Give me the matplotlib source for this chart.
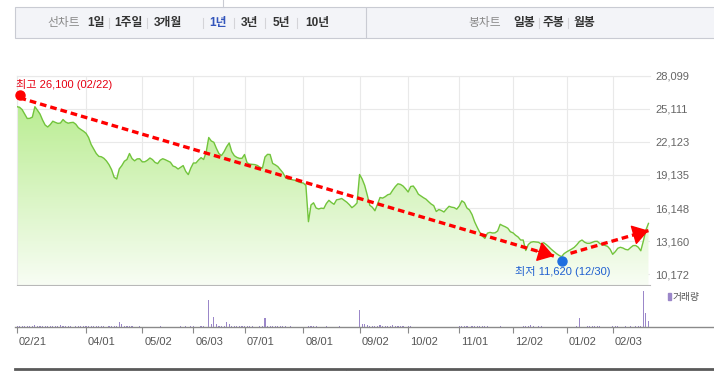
import matplotlib.pyplot as plt
import matplotlib.transforms as mtransforms
import numpy as np
from matplotlib.colors import LinearSegmentedColormap
from matplotlib.lines import Line2D
from matplotlib.patches import Rectangle

plt.rcParams['font.family'] = ['Liberation Sans', 'Noto Sans CJK KR']

W, H = 714, 371

# daily closing prices, one value per trading day
close = [
    25300, 25250, 25040, 24640, 24235, 24250, 24360, 25300, 24980, 24640,
    24100, 23650, 23470, 23685, 23990, 23885, 23795, 23830, 24145, 23920,
    23810, 23865, 23890, 23720, 23405, 23240, 23090, 22900, 22520, 21890,
    21490, 21075, 20820, 20780, 20640, 20400, 20065, 19615, 18935, 18775,
    19685, 19985, 20380, 20535, 21075, 20615, 20415, 20590, 20600, 20320,
    20330, 20470, 20670, 20525, 20270, 20165, 20470, 20605, 20515, 20400,
    20290, 19950, 19860, 19675, 19830, 19985, 19460, 19170, 19770, 20220,
    20220, 20490, 20705, 20535, 21210, 22520, 22205, 22085, 21535, 21060,
    20895, 21240, 21690, 22025, 21245, 20880, 20725, 20640, 20640, 20985,
    20235, 20120, 20100, 20075, 20000, 19840, 19765, 20760, 21000, 20985,
    20180, 20055, 19900, 19615, 19340, 18925, 18765, 18755, 18685, 18655,
    18520, 18450, 18405, 18195, 14920, 16430, 16625, 16155, 16065, 16140,
    16110, 16560, 16850, 16650, 16490, 16895, 16940, 17015, 16850, 16680,
    16455, 16185, 16365, 16610, 19180, 18775, 18195, 17330, 16400, 16220,
    15905, 16490, 17105, 17050, 17175, 17350, 17420, 17780, 18095, 18340,
    18285, 18140, 17890, 17600, 18095, 18140, 17825, 17400, 17240, 17085,
    16950, 16725, 16515, 16370, 15840, 16020, 15930, 15795, 16065, 16310,
    16230, 16190, 16050, 16335, 16805, 16645, 16155, 15975, 15560, 14910,
    14415, 13965, 13630, 13410, 13880, 13955, 13900, 13915, 14080, 14685,
    14560, 14460, 14325, 14010, 13915, 13700, 13540, 13265, 13265, 12320,
    12860, 13065, 13115, 13085, 13060, 12905, 13025, 12860, 12655, 12430,
    12230, 12040, 11885, 11760, 12040, 12195, 12320, 12455, 12610, 12845,
    13130, 13265, 13070, 12970, 12970, 13060, 13140, 13150, 12935, 12845,
    12780, 12690, 12435, 11975, 12210, 12520, 12610, 12545, 12420, 12375,
    12580, 12760, 12770, 12615, 12295, 13175, 14170, 14765,
]

# traded volume per day (relative units)
volume = [
    18, 18, 18, 18, 18, 18, 18, 36, 18, 18,
    18, 18, 18, 18, 18, 18, 18, 36, 18, 18,
    18, 18, 0, 18, 18, 18, 18, 18, 18, 18,
    18, 18, 18, 18, 18, 0, 18, 18, 18, 18,
    89, 52, 18, 18, 18, 18, 0, 0, 18, 0,
    0, 0, 0, 0, 0, 0, 18, 0, 0, 0,
    0, 0, 0, 0, 18, 0, 18, 0, 18, 18,
    0, 0, 18, 18, 0, 416, 52, 161, 52, 18,
    18, 18, 89, 52, 18, 18, 18, 18, 18, 18,
    18, 18, 18, 0, 0, 18, 18, 146, 18, 18,
    18, 18, 18, 18, 18, 18, 0, 18, 0, 0,
    0, 0, 0, 0, 18, 18, 18, 18, 0, 0,
    0, 18, 0, 0, 0, 0, 18, 0, 0, 0,
    0, 0, 0, 0, 270, 52, 52, 36, 18, 18,
    18, 18, 36, 18, 18, 18, 18, 36, 18, 18,
    18, 18, 0, 18, 18, 0, 0, 0, 0, 0,
    0, 0, 0, 0, 0, 0, 0, 0, 0, 0,
    0, 0, 0, 18, 18, 18, 18, 0, 18, 18,
    18, 18, 18, 18, 18, 0, 0, 0, 0, 18,
    0, 0, 0, 0, 0, 0, 0, 0, 18, 18,
    18, 30, 18, 0, 18, 18, 0, 0, 0, 0,
    0, 0, 0, 0, 0, 0, 0, 0, 0, 18,
    146, 0, 0, 18, 18, 18, 18, 18, 18, 0,
    0, 0, 0, 18, 18, 18, 0, 0, 18, 0,
    18, 0, 18, 18, 18, 567, 224, 99,
]

tick_days = [0, 27, 49, 69, 89, 112, 134, 153, 173, 194, 215, 233]
tick_labels = ["02/21", "04/01", "05/02", "06/03", "07/01", "08/01",
               "09/02", "10/02", "11/01", "12/02", "01/02", "02/03"]
price_ticks = [10172, 13160, 16148, 19135, 22123, 25111, 28099]

high_day, high_price, high_date = 1, 26100, "02/22"
low_day, low_price, low_date = 213, 11620, "12/30"

line_tabs = ["1일", "1주일", "3개월", "1년", "3년", "5년", "10년"]
candle_tabs = ["일봉", "주봉", "월봉"]

days = np.arange(len(close))
x_max = 247.6
y_min, y_max = 9205, 28099


def box(l, t, r, b):
    return [l / W, 1 - b / H, (r - l) / W, (b - t) / H]


def vline(x, y0, y1, **kw):
    fig.lines.append(Line2D([x / W] * 2, [1 - y0 / H, 1 - y1 / H],
                            transform=fig.transFigure, **kw))


fig = plt.figure(figsize=(W / 100, H / 100), dpi=100)

# ---- tab bar ----
fig.patches.append(Rectangle((15 / W, 1 - 37.7 / H), 1, 30.4 / H, transform=fig.transFigure,
                             facecolor="#f3f4f8", edgecolor="#c9cbd3", lw=0.8))
vline(366, 7.7, 37.3, color="#c9cbd3", lw=0.8)
vline(223, 0, 7.3, color="#c9cbd3", lw=0.8)
ty = 1 - 23 / H
tab_font = 8.5
fig.text(64 / W, ty, "선차트", ha="center", va="center", fontsize=tab_font, color="#8a8a8a")
line_x = [96, 128, 168, 218, 249, 281, 317]
sep_x = [109, 147, 203, 234, 265, 297]
for lab, xc in zip(line_tabs, line_x):
    col = "#3355bb" if lab == "1년" else "#333333"
    fig.text(xc / W, ty, lab, ha="center", va="center", fontsize=tab_font,
             fontweight="bold", color=col)
for xs in sep_x + [539, 568]:
    vline(xs, 18, 28, color="#d4d4d8", lw=0.8)
fig.text(485 / W, ty, "봉차트", ha="center", va="center", fontsize=tab_font, color="#8a8a8a")
for lab, xc in zip(candle_tabs, [524, 553, 584]):
    fig.text(xc / W, ty, lab, ha="center", va="center", fontsize=tab_font,
             fontweight="bold", color="#333333")

# ---- price panel ----
ax = fig.add_axes(box(17, 75.7, 650, 285))
ax.set_xlim(0, x_max)
ax.set_ylim(y_min, y_max)

grad = np.linspace(0, 1, 256).reshape(-1, 1)
cmap = LinearSegmentedColormap.from_list("g", ["#f8fdf4", "#b0ea82"])
im = ax.imshow(grad, extent=[0, x_max, y_min, y_max], origin="lower",
               aspect="auto", cmap=cmap, zorder=1)
poly = ax.fill_between(days, close, y_min, color="none")
im.set_clip_path(poly.get_paths()[0], transform=ax.transData)
ax.plot(days, close, color="#72c43c", lw=1.0, zorder=3)

ax.set_xticks(tick_days)
ax.set_yticks(price_ticks)
ax.grid(True, color="#e9e9e9", lw=0.8, zorder=0)
ax.set_axisbelow(True)
ax.yaxis.tick_right()
ax.set_yticklabels([f"{v:,}" for v in price_ticks])
ax.tick_params(axis="y", length=0, pad=4, labelsize=8, labelcolor="#666666")
ax.tick_params(axis="x", length=0, labelbottom=False)
ax.spines["right"].set_visible(False)
for s in ["left", "top"]:
    ax.spines[s].set_color("#e9e9e9")
    ax.spines[s].set_linewidth(0.8)
ax.spines["bottom"].set_color("#b8b8b8")
ax.spines["bottom"].set_linewidth(0.8)

# trend arrows: dashed shaft plus a solid filled head
start1 = (high_day, high_price)
end1 = (low_day - 3, low_price + 200)
start2 = (low_day + 3.5, low_price + 450)
end2 = (len(close) - 1, close[-1] - 650)
for p0, p1 in [(start1, end1), (start2, end2)]:
    ax.plot([p0[0], p1[0]], [p0[1], p1[1]], color="#ff0000", lw=2.4,
            dashes=(2.0, 1.2), zorder=4)
    back = (p1[0] - 0.04 * (p1[0] - p0[0]), p1[1] - 0.04 * (p1[1] - p0[1]))
    ax.annotate("", xy=p1, xytext=back, zorder=4,
                arrowprops=dict(arrowstyle="-|>,head_length=0.5,head_width=0.32",
                                color="#ff0000", lw=1.0, shrinkA=0, shrinkB=0,
                                mutation_scale=20))

ax.plot(high_day, high_price, "o", color="#ff0000", ms=6.5, zorder=5, clip_on=False,
        transform=ax.transData + mtransforms.Affine2D().translate(0, 3))
ax.plot(low_day, low_price, "o", color="#1f6fe0", ms=6.5, zorder=5, clip_on=False,
        transform=ax.transData + mtransforms.Affine2D().translate(0, -3))
ax.annotate(f"최고 {high_price:,} ({high_date})", xy=(high_day, high_price),
            xytext=(-3.5, 13.5), textcoords="offset pixels", ha="left", va="center",
            fontsize=8, color="#e60012")
ax.annotate(f"최저 {low_price:,} ({low_date})", xy=(low_day, low_price),
            xytext=(1, -13.5), textcoords="offset pixels", ha="center", va="center",
            fontsize=8, color="#1f5fd0")

# ---- volume panel ----
axv = fig.add_axes(box(17, 286, 650, 327.3))
axv.bar(days, volume, width=0.45, color="#9b87c9")
axv.set_xlim(0, x_max)
axv.set_ylim(0, 640)
for s in axv.spines.values():
    s.set_visible(False)
axv.set_yticks([])
axv.set_xticks(tick_days)
axv.set_xticklabels(tick_labels)
axv.tick_params(axis="x", direction="out", length=4, width=0.8, color="#8a8a8a",
                pad=3, labelsize=8, labelcolor="#555555")
shift = mtransforms.ScaledTranslation(2 / 100, 0, fig.dpi_scale_trans)
for lab in axv.get_xticklabels():
    lab.set_horizontalalignment("left")
    lab.set_transform(lab.get_transform() + shift)

fig.lines.append(Line2D([15 / W, 1], [1 - 327.3 / H] * 2, transform=fig.transFigure,
                        color="#8a8a8a", lw=1.0))
fig.patches.append(Rectangle((668 / W, 1 - 300 / H), 2.7 / W, 7 / H,
                             transform=fig.transFigure, color="#9b87c9"))
fig.text(673 / W, 1 - 297 / H, "거래량", ha="left", va="center", fontsize=7, color="#555555")

# bottom border with scroll handle
fig.lines.append(Line2D([15 / W, 1], [1 - 368.5 / H] * 2, transform=fig.transFigure,
                        color="#5a5a5a", lw=2.0))
fig.patches.append(Rectangle((346 / W, 0), 40 / W, 2 / H, transform=fig.transFigure,
                             facecolor="#f0f0f0", edgecolor="#bbbbbb", lw=0.6))

fig.savefig("out.png", dpi=100)
